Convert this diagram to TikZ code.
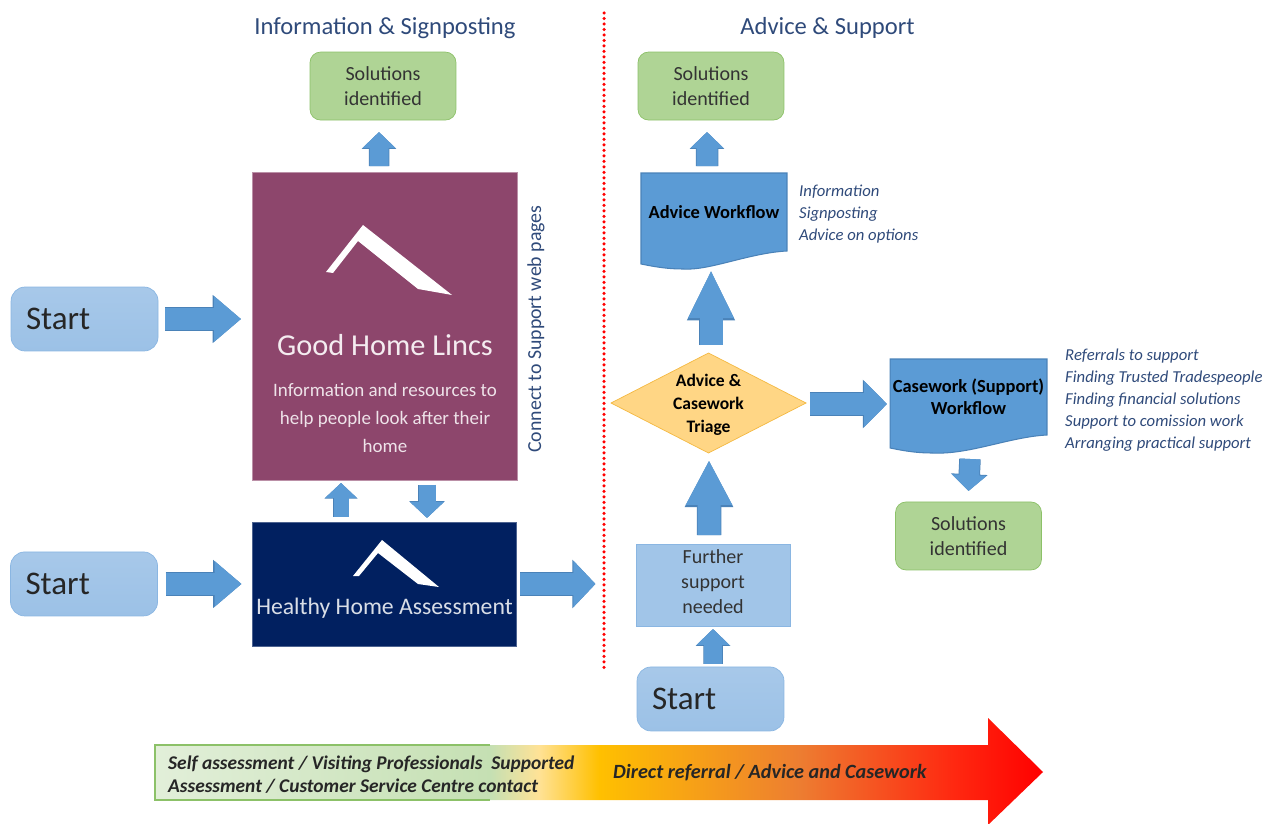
\documentclass[tikz,border=0pt]{standalone}
\usepackage{fontspec}
\setmainfont{Carlito}
\usetikzlibrary{calc,positioning,shapes.geometric,arrows.meta}
\definecolor{plum}{HTML}{8D466C}
\definecolor{navy}{HTML}{012060}
\definecolor{arrowblue}{HTML}{5B9BD5}
\definecolor{arrowedge}{HTML}{4A82B8}
\definecolor{titleblue}{HTML}{2F4A7A}
\definecolor{startedge}{HTML}{8AB6E2}
\definecolor{solveedge}{HTML}{8CC168}
\definecolor{triagefill}{HTML}{FFD685}
\definecolor{triageedge}{HTML}{F4B942}
\pgfdeclarehorizontalshading{progress}{100bp}{
 rgb(0bp)=(.886,.937,.851);
 rgb(25bp)=(.886,.937,.851);
 rgb(43.9bp)=(.773,.878,.702);
 rgb(46.6bp)=(1,.886,.588);
 rgb(50bp)=(1,.753,0);
 rgb(61.3bp)=(.929,.49,.192);
 rgb(70bp)=(1,.157,.063);
 rgb(75bp)=(1,0,0);
 rgb(100bp)=(1,0,0)}
\tikzset{
 startbox/.style={rectangle, draw=startedge, rounded corners=8pt, top color=startedge!75!white, bottom color=startedge!85!white,
  minimum width=2.94cm, minimum height=1.28cm, outer sep=0pt, align=left, text=black!85,
  font=\fontsize{18.8}{22}\selectfont},
 solvebox/.style={rectangle, draw=solveedge, rounded corners=6pt, fill=solveedge!70!white,
  minimum width=2.92cm, minimum height=1.36cm, outer sep=0pt, align=center, text=black!80,
  font=\fontsize{11.4}{14.2}\selectfont},
 docbox/.style={rectangle, outer sep=0pt, align=center, font=\bfseries\fontsize{10.5}{12.5}\selectfont},
 notes/.style={anchor=west, align=left, text=titleblue, font=\itshape\fontsize{9.5}{12.47}\selectfont},
 heading/.style={text=titleblue, font=\fontsize{14}{16}\selectfont},
 blockarrow/.style n args={3}{draw=arrowblue, line width=#1, -{Triangle[length=#3,width=#2]},
  preaction={draw=arrowedge, line width=#1+0.03cm, -{Triangle[length=#3,width=#2,scale=1.05]}}},
}
\newcommand{\docshape}[1]{
 \draw[arrowedge, fill=arrowblue, line width=0.6pt] (#1.north west) -- (#1.north east) -- (#1.south east)
  .. controls ($(#1.south east)+(-38,2)$) and ($(#1.south east)+(-78,20)$) .. ($(#1.south west)+(42,18)$)
  .. controls ($(#1.south west)+(24,18)$) and ($(#1.south west)+(10,15)$) .. ($(#1.south west)+(0,13)$) -- cycle;
}
\begin{document}
\begin{tikzpicture}[x=0.02cm,y=-0.02cm]
\useasboundingbox (0,0) rectangle (1274,824);
% progress arrow along the bottom
\shade[shading=progress] (155,745) -- (988,745) -- (988,718) -- (1043,772) -- (988,825) -- (988,800) -- (155,800) -- cycle;
\draw[solveedge, line width=1.2pt] (490,745) -- (155,745) -- (155,800) -- (490,800);
\node [anchor=west, align=left, font=\bfseries\itshape\fontsize{11.05}{13}\selectfont, text=black!85] (routes) at (162,774.5)
 {Self assessment / Visiting Professionals\ \ Supported\\Assessment / Customer Service Centre contact};
\node [anchor=west, font=\bfseries\itshape\fontsize{11.5}{13}\selectfont, text=black!85] (direct) at (607,773) {Direct referral / Advice and Casework};
% left column
\node [rectangle, draw=plum!60!white, fill=plum, minimum width=5.3cm, minimum height=6.16cm, outer sep=0pt] (good) at (384.5,326) {};
\node [rectangle, draw=navy!70!white, fill=navy, minimum width=5.28cm, minimum height=2.48cm, outer sep=0pt, below=0.84cm of good] (healthy) {};
\node [solvebox, above=1.04cm of good, xshift=-0.03cm] (solveA) {Solutions\\identified};
\node [startbox, left=1.88cm of good, yshift=0.14cm, text width=2.34cm] (startA) {Start};
\node [startbox, left=1.90cm of healthy, text width=2.34cm] (startB) {Start};
\fill[white] (326,272) -- (363,225) -- (452,295) -- (418,289) -- (358,241) -- (333,273) -- cycle;
\fill[white] (353,576) -- (382,540) -- (439,587) -- (418,584) -- (378,553) -- (359,576) -- cycle;
\node [text=white!90!plum, font=\fontsize{17.3}{20}\selectfont] (goodname) at (385,345) {Good Home Lincs};
\node [text=white!85!plum, align=center, font=\fontsize{10.8}{16.2}\selectfont] (goodtext) at (385,418) {Information and resources to\\help people look after their\\home};
\node [text=white!85!navy, font=\fontsize{13.5}{16}\selectfont] (healthyname) at (384.5,608) {Healthy Home Assessment};
\node [heading] (lefthead) at (385,28) {Information \& Signposting};
\node [heading] (righthead) at (827.5,28) {Advice \& Support};
\node [rotate=90, text=titleblue, font=\fontsize{11.3}{15}\selectfont] (connect) at (536,329) {Connect to Support web pages};
% divider
\coordinate (divtop) at (604,13);
\coordinate (divend) at (604,672);
\draw[red, line width=0.07cm, line cap=round, dash pattern=on 0pt off 0.11cm] (divtop) -- (divend);
% right column
\node [diamond, draw=triageedge, fill=triagefill, inner sep=0pt, outer sep=0pt, minimum width=3.9cm, minimum height=2cm] (triage) at (708.5,403) {};
\node [align=center, yshift=-0.04cm, font=\bfseries\fontsize{10}{13}\selectfont] (triagetext) at (triage) {Advice \&\\Casework\\Triage};
\node [docbox, minimum width=2.92cm, minimum height=1.56cm] (advice) at (714,212) {};
\node [docbox, minimum width=3.14cm, minimum height=1.52cm] (casework) at (968.5,397) {};
\docshape{advice}
\docshape{casework}
\node [docbox] (advicetext) at (advice) {Advice Workflow};
\node [docbox] (caseworktext) at (casework) {Casework (Support)\\Workflow};
\node [solvebox, above=1.06cm of advice, xshift=-0.06cm] (solveB) {Solutions\\identified};
\node [solvebox, below=1.34cm of casework] (solveC) {Solutions\\identified};
\node [rectangle, draw=startedge, fill=startedge!80!white, minimum width=3.08cm, minimum height=1.64cm, outer sep=0pt] (further) at (713,585) {};
\node [align=center, text=black!80, font=\fontsize{11.4}{14.2}\selectfont, yshift=0.06cm] (furthertext) at (further) {Further\\support\\needed};
\node [startbox, below=0.82cm of further, xshift=-0.05cm, text width=2.34cm] (startC) {Start};
\node [notes] (advicenotes) at (793,214) {Information\\Signposting\\Advice on options};
\node [notes] (caseworknotes) at (1059,400) {Referrals to support\\Finding Trusted Tradespeople\\Finding financial solutions\\Support to comission work\\Arranging practical support};
% block arrows
\draw[blockarrow={0.44cm}{0.88cm}{0.54cm}] ($(startA.east)+(7,0)$) -- ($(startA.east -| good.west)+(-11,0)$);
\draw[blockarrow={0.44cm}{0.88cm}{0.54cm}] ($(startB.east)+(8,0)$) -- ($(startB.east -| healthy.west)+(-11,0)$);
\draw[blockarrow={0.44cm}{0.9cm}{0.44cm}] ($(healthy.east)+(4,0)$) -- ($(healthy.east)+(79,0)$);
\draw[blockarrow={0.38cm}{0.64cm}{0.32cm}] ($(good.north)+(-5.5,-6)$) -- ($(solveA.south)+(-4,12)$);
\draw[blockarrow={0.3cm}{0.62cm}{0.3cm}] ($(healthy.north)+(-43.5,-5)$) -- ($(good.south)+(-43.5,3)$);
\draw[blockarrow={0.34cm}{0.66cm}{0.32cm}] ($(good.south)+(42.5,5)$) -- ($(healthy.north)+(42.5,-4)$);
\draw[blockarrow={0.42cm}{0.64cm}{0.32cm}] ($(advice.north)+(-7,-7)$) -- ($(solveB.south)+(-4,12)$);
\draw[blockarrow={0.46cm}{0.84cm}{0.96cm}] ($(triage.north)+(2.5,-8)$) -- ($(triage.north)+(2.5,-83)$);
\draw[blockarrow={0.46cm}{0.86cm}{0.9cm}] ($(further.north)+(-4,-9)$) -- ($(triage.south)+(0.5,7)$);
\draw[blockarrow={0.36cm}{0.64cm}{0.32cm}] ($(startC.north)+(2.5,-3)$) -- ($(further.south)+(0,3)$);
\draw[blockarrow={0.44cm}{0.9cm}{0.46cm}] ($(triage.east)+(4,1)$) -- ($(triage.east -| casework.west)+(-3,1)$);
\draw[blockarrow={0.4cm}{0.68cm}{0.32cm}] ($(casework.south)+(1.5,24)$) -- ($(solveC.north)+(0,-11)$);
\end{tikzpicture}
\end{document}
